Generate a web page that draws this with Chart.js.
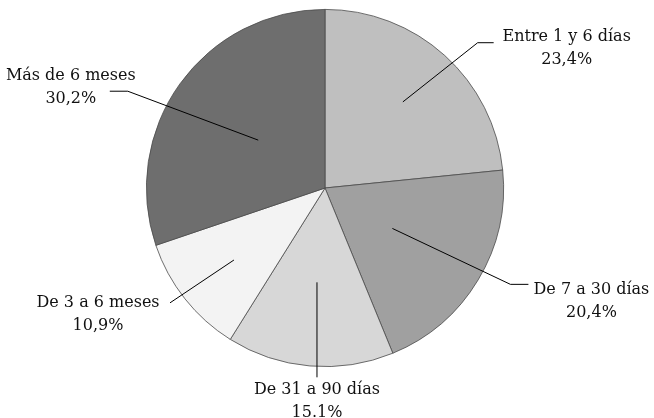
<!DOCTYPE html>
<html>
<head>
<meta charset="utf-8">
<script src="https://cdn.jsdelivr.net/npm/chart.js@4/dist/chart.umd.min.js"></script>
<style>
  html, body { margin: 0; padding: 0; background: #ffffff; }
  #wrap { width: 654px; height: 418px; position: relative; }
</style>
</head>
<body>
<div id="wrap"><canvas id="c" width="654" height="418"></canvas></div>
<script>
const categories = ['Entre 1 y 6 días', 'De 7 a 30 días', 'De 31 a 90 días', 'De 3 a 6 meses', 'Más de 6 meses'];
const values = [23.4, 20.4, 15.1, 10.9, 30.2];
const valueLabels = ['23,4%', '20,4%', '15.1%', '10,9%', '30,2%'];
const sliceColors = ['#bfbfbf', '#a0a0a0', '#d7d7d7', '#f3f3f3', '#6e6e6e'];

// leader-line layout per slice (styling only)
const leaderLayout = [
  { anchorR: 0.65, elbowDeg: 4.3,  elbowR: 1.18, tail: 16,  textDx: 73,  textDy: -6, vertical: false },
  { anchorR: 0.44, elbowDeg: -3.5, elbowR: 1.17, tail: 18,  textDx: 63,  textDy: 5,  vertical: false },
  { anchorR: 0.53, elbowDeg: 0,    elbowR: 1.06, tail: 0,   textDx: 0,   textDy: 13, vertical: true },
  { anchorR: 0.65, elbowDeg: 1.8,  elbowR: 1.08, tail: 0,   textDx: -72, textDy: 0,  vertical: false },
  { anchorR: 0.46, elbowDeg: -9.5, elbowR: 1.23, tail: -18, textDx: -39, textDy: -15, vertical: false }
];

const FONT = '16px "DejaVu Serif"';
const LINE_GAP = 23;

const leaderPlugin = {
  id: 'leaders',
  afterDatasetsDraw(chart) {
    const ctx = chart.ctx;
    const meta = chart.getDatasetMeta(0);
    ctx.save();
    meta.data.forEach((arc, i) => {
      const p = arc.getProps(['x', 'y', 'startAngle', 'endAngle', 'outerRadius'], true);
      const L = leaderLayout[i];
      const mid = (p.startAngle + p.endAngle) / 2;
      const R = p.outerRadius;
      const ax = p.x + Math.cos(mid) * R * L.anchorR;
      const ay = p.y + Math.sin(mid) * R * L.anchorR;
      let ex, ey;
      if (L.vertical) {
        ex = ax;
        ey = p.y + R * L.elbowR;
      } else {
        const ea = mid + L.elbowDeg * Math.PI / 180;
        ex = p.x + Math.cos(ea) * R * L.elbowR;
        ey = p.y + Math.sin(ea) * R * L.elbowR;
      }
      const tx = ex + L.tail;
      ctx.beginPath();
      ctx.strokeStyle = '#000000';
      ctx.lineWidth = 1;
      ctx.moveTo(ax, ay);
      ctx.lineTo(ex, ey);
      if (L.tail !== 0) ctx.lineTo(tx, ey);
      ctx.stroke();

      ctx.fillStyle = '#111111';
      ctx.font = FONT;
      ctx.textAlign = 'center';
      ctx.textBaseline = 'middle';
      const cx = tx + L.textDx;
      const cy = ey + L.textDy;
      ctx.fillText(chart.data.labels[i], cx, cy);
      ctx.fillText(valueLabels[i], cx, cy + LINE_GAP);
    });
    ctx.restore();
  }
};

new Chart(document.getElementById('c'), {
  type: 'pie',
  data: {
    labels: categories,
    datasets: [{
      data: values,
      backgroundColor: sliceColors,
      borderColor: '#4a4a4a',
      borderWidth: 0.8
    }]
  },
  options: {
    responsive: false,
    animation: false,
    devicePixelRatio: 1,
    layout: { padding: { top: 9, bottom: 51, left: 0, right: 4 } },
    plugins: {
      legend: { display: false },
      tooltip: { enabled: false },
      title: { display: false }
    }
  },
  plugins: [leaderPlugin]
});
</script>
</body>
</html>
